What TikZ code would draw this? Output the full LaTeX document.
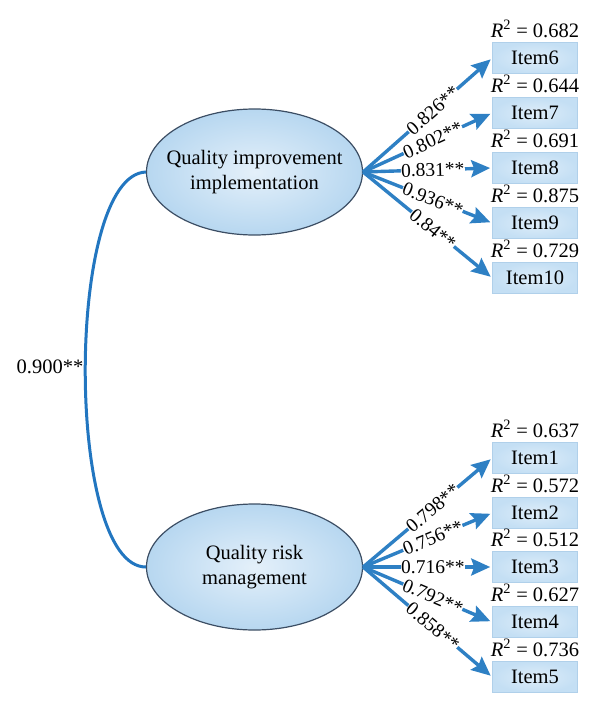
\documentclass[tikz,border=0pt]{standalone}
\usepackage{fontspec}
\setmainfont{Liberation Serif}
\usetikzlibrary{shapes.geometric,arrows.meta}
\definecolor{arrowblue}{RGB}{46,128,196}
\definecolor{curveblue}{RGB}{34,118,192}
\definecolor{ellborder}{RGB}{60,78,100}
\definecolor{ellin}{RGB}{228,240,250}
\definecolor{ellout}{RGB}{183,215,240}
\definecolor{boxfill}{RGB}{196,223,244}
\definecolor{boxin}{RGB}{222,237,249}
\definecolor{boxline}{RGB}{176,208,234}
\begin{document}
\begin{tikzpicture}[x=1bp,y=-1bp,
  every node/.style={font=\fontsize{20.5bp}{25bp}\selectfont},
  latent/.style={ellipse, draw=ellborder, line width=1.2bp, inner color=ellin, outer color=ellout,
    minimum width=216bp, minimum height=126bp, align=center, inner xsep=-14bp, inner ysep=0},
  itembox/.style={rectangle, draw=boxline, line width=0.6bp, inner color=boxin, outer color=boxfill,
    minimum width=85bp, minimum height=31bp, inner sep=0},
  rlabel/.style={anchor=base, inner sep=0, yshift=5bp},
  load/.style={draw=arrowblue, line width=3.4bp, -{Stealth[length=19bp,width=17bp,inset=3bp]}, shorten >=2bp},
  coef/.style={fill=white, inner sep=0.3bp, sloped, pos=0.54, font=\fontsize{19.5bp}{22bp}\selectfont},
]
\useasboundingbox (0,0) rectangle (600,714);

% latent variables
\node[latent] (qi) at (254.5,172) {Quality improvement\\implementation};
\node[latent] (qr) at (254.5,567) {Quality risk\\management};

% items (top)
\node[itembox] (i6) at (535,58) {Item6};
\node[itembox] (i7) at (535,113) {Item7};
\node[itembox] (i8) at (535,168) {Item8};
\node[itembox] (i9) at (535,223) {Item9};
\node[itembox] (i10) at (535,278) {Item10};
% items (bottom)
\node[itembox] (i1) at (535,458) {Item1};
\node[itembox] (i2) at (535,513) {Item2};
\node[itembox] (i3) at (535,567) {Item3};
\node[itembox] (i4) at (535,622) {Item4};
\node[itembox] (i5) at (535,677) {Item5};

% R^2 labels
\node[rlabel] (r6) at (i6.north) {{\itshape R}\textsuperscript{2} = 0.682};
\node[rlabel] (r7) at (i7.north) {{\itshape R}\textsuperscript{2} = 0.644};
\node[rlabel] (r8) at (i8.north) {{\itshape R}\textsuperscript{2} = 0.691};
\node[rlabel] (r9) at (i9.north) {{\itshape R}\textsuperscript{2} = 0.875};
\node[rlabel] (r10) at (i10.north) {{\itshape R}\textsuperscript{2} = 0.729};
\node[rlabel] (r1) at (i1.north) {{\itshape R}\textsuperscript{2} = 0.637};
\node[rlabel] (r2) at (i2.north) {{\itshape R}\textsuperscript{2} = 0.572};
\node[rlabel] (r3) at (i3.north) {{\itshape R}\textsuperscript{2} = 0.512};
\node[rlabel] (r4) at (i4.north) {{\itshape R}\textsuperscript{2} = 0.627};
\node[rlabel] (r5) at (i5.north) {{\itshape R}\textsuperscript{2} = 0.736};

% loadings (top)
\draw[load] (qi.east) -- node[coef] {0.826**} (i6.west);
\draw[load] (qi.east) -- node[coef] {0.802**} (i7.west);
\draw[load] (qi.east) -- node[coef] {0.831**} (i8.west);
\draw[load] (qi.east) -- node[coef] {0.936**} (i9.west);
\draw[load] (qi.east) -- node[coef] {0.84**} (i10.west);
% loadings (bottom)
\draw[load] (qr.east) -- node[coef] {0.798**} (i1.west);
\draw[load] (qr.east) -- node[coef] {0.756**} (i2.west);
\draw[load] (qr.east) -- node[coef] {0.716**} (i3.west);
\draw[load] (qr.east) -- node[coef] {0.792**} (i4.west);
\draw[load] (qr.east) -- node[coef] {0.858**} (i5.west);

% covariance
\draw[curveblue, line width=3bp] (qi.west) .. controls (65,175) and (65,567) .. (qr.west);
\node (cov) at (50,367) {0.900**};
\end{tikzpicture}
\end{document}
